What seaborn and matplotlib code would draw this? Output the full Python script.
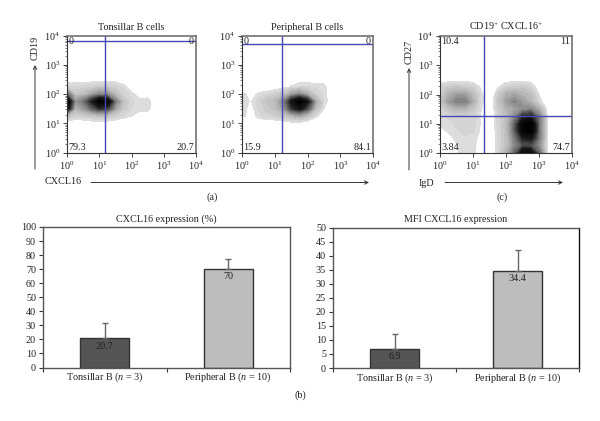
import matplotlib
matplotlib.use("Agg")
import matplotlib.pyplot as plt
import numpy as np
import pandas as pd
import seaborn as sns

sns.set_theme(style="white")
plt.rcParams["font.family"] = ["Liberation Serif", "DejaVu Serif"]
plt.rcParams["mathtext.fontset"] = "custom"
plt.rcParams["mathtext.rm"] = "Liberation Serif"
plt.rcParams["mathtext.it"] = "Liberation Serif:italic"
plt.rcParams["text.color"] = "#222222"

W, H = 600, 421
BLUE = "#4646b4"
FS = 7.3

# darkness (0 white, 10 black), top row first
# log10 positions of the columns / rows
tons_x = [0, .25, .5, .75, 1, 1.25, 1.5, 1.75, 2, 2.25, 2.5, 2.75, 3]
tons_y = [2.75, 2.5, 2.25, 2, 1.75, 1.5, 1.25, 1, .75]
tons_dark = [
    [0, 0, 0, 0, 0, 0, 0, 0, 0, 0, 0, 0, 0],
    [.5, .5, .5, .5, .6, .7, .6, .3, 0, 0, 0, 0, 0],
    [1.5, 1.5, 1.6, 1.8, 2, 2, 1.7, 1.3, .4, 0, 0, 0, 0],
    [5.5, 2.2, 2.6, 3.5, 4.5, 4.2, 2.7, 1.7, 1.2, .6, .6, 0, 0],
    [10, 4, 5, 7.5, 10, 9.5, 4.8, 2.4, 1.5, 1.2, 1.3, .4, 0],
    [8.5, 3, 3.8, 5.5, 7, 6.5, 3.6, 2, 1.4, 1.2, 1.2, .4, 0],
    [2.5, 1.6, 1.8, 2.1, 2.4, 2.3, 1.8, 1.4, 1, .7, .7, 0, 0],
    [.5, .5, .5, .6, .6, .6, .5, .3, 0, 0, 0, 0, 0],
    [0, 0, 0, 0, 0, 0, 0, 0, 0, 0, 0, 0, 0],
]

peri_x = [0, .25, .5, .75, 1, 1.25, 1.5, 1.75, 2, 2.25, 2.5, 2.75]
peri_y = [2.75, 2.5, 2.25, 2, 1.75, 1.5, 1.25, 1, .75]
peri_dark = [
    [0, 0, 0, 0, 0, 0, 0, 0, 0, 0, 0, 0],
    [0, 0, 0, 0, 0, 0, .4, .5, .5, .6, .6, 0],
    [0, 0, 0, 0, .4, .7, 1.1, 1.5, 1.5, 1.3, 1.2, .3],
    [1.3, .6, 1.2, 1.5, 1.8, 2.3, 3.6, 4.4, 3.2, 1.8, 1.3, .3],
    [1.5, .9, 1.7, 2.3, 2.8, 4.5, 8, 10, 8, 3.4, 1.4, .2],
    [1.3, .7, 1.5, 2.1, 2.5, 3.8, 6.8, 8.2, 6, 2.5, 1, 0],
    [1.2, .6, 1.3, 1.6, 1.8, 2.2, 2.9, 3.5, 2.5, 1.3, 0, 0],
    [.3, 0, .4, .5, .5, .6, .7, .8, .5, 0, 0, 0],
    [0, 0, 0, 0, 0, 0, 0, 0, 0, 0, 0, 0],
]

igd_x = [0, .25, .5, .75, 1, 1.25, 1.5, 1.75, 2, 2.25, 2.5, 2.75, 3, 3.25]
igd_y = [2.75, 2.5, 2.25, 2, 1.75, 1.5, 1.25, 1, .75, .5, .25, 0]
igd_dark = [
    [0, 0, 0, 0, 0, 0, 0, 0, 0, 0, 0, 0, 0, 0],
    [.5, .5, .6, .6, .5, 0, 0, 0, .5, .6, .7, .6, 0, 0],
    [1.6, 2, 2.1, 2, 1.8, .8, 0, .9, 1.8, 2, 2.1, 1.6, .4, 0],
    [2, 3.2, 3.8, 3.8, 2.7, 1.2, 0, 2, 3.2, 3.6, 3, 2.6, 1, 0],
    [2.2, 3.8, 4.8, 4.8, 3.2, 1.2, .2, 2.3, 3.8, 4.6, 3.8, 3, 1.4, .2],
    [1.6, 2.4, 3, 3, 2.2, 1, .2, 1.9, 3, 3.6, 4.2, 4.5, 3.2, .7],
    [1.2, 1.5, 1.7, 1.8, 1.7, .9, .3, 1.7, 2.5, 4.4, 7, 7.5, 4.8, 1],
    [1.1, 1.3, 1.5, 1.6, 1.6, .9, .3, 1.6, 2.6, 5.5, 9.5, 10, 5.2, 1.1],
    [.8, 1.1, 1.4, 1.5, 1.5, .8, .2, 1.5, 2.6, 5.5, 9.5, 10, 5.2, 1.1],
    [.6, .6, 1.3, 1.4, 1.3, .6, .1, 1.4, 2.5, 4.8, 7.5, 8, 4.8, 1.1],
    [.7, .5, .9, 1.3, 1.2, .5, .1, 1.4, 2.5, 4.4, 6, 6, 4.2, 1],
    [.5, .5, .9, 1.4, 1.2, .4, .1, 1.6, 3, 5.5, 9, 9, 5.5, 1],
]

# quadrant percentages: top left, top right, bottom left, bottom right
tons_quad = ["0", "0", "79.3", "20.7"]
peri_quad = ["0", "0", "15.9", "84.1"]
igd_quad = ["10.4", "11", "3.84", "74.7"]

groups = ["Tonsillar B ($n$ = 3)", "Peripheral B ($n$ = 10)"]
pct_values = [20.7, 70]
pct_err = [11.3, 7]
pct_labels = ["20.7", "70"]
mfi_values = [6.9, 34.4]
mfi_err = [5.3, 7.6]
mfi_labels = ["6.9", "34.4"]
bar_colors = ["#555555", "#bdbdbd"]

dark_cmap = sns.blend_palette(["#e2e2e2", "#b0b0b0", "#686868", "#181818", "#000000"], as_cmap=True)


def px_axes(fig, x0, y0, x1, y1):
    return fig.add_axes([x0 / W, 1 - y1 / H, (x1 - x0) / W, (y1 - y0) / H])


def density_panel(fig, rect, xs, ys, dark, gate, quad, title):
    ax = px_axes(fig, *rect)
    X = 10 ** np.array(xs, dtype=float)
    Y = 10 ** np.array(ys[::-1], dtype=float)
    Z = np.array(dark[::-1], dtype=float)
    ax.contourf(X, Y, Z, levels=np.linspace(1, 10.01, 22), cmap=dark_cmap)
    ax.set_xscale("log")
    ax.set_yscale("log")
    ax.set_xlim(1, 1e4)
    ax.set_ylim(1, 1e4)
    ax.axvline(gate[0], color=BLUE, lw=1)
    ax.axhline(gate[1], color=BLUE, lw=1)
    ax.set_xticks([1, 10, 100, 1000, 10000])
    ax.set_yticks([1, 10, 100, 1000, 10000])
    ax.tick_params(axis="both", which="major", left=True, bottom=True, length=3,
                   width=.6, pad=2, labelsize=FS, color="#222222", labelcolor="#222222")
    ax.tick_params(axis="both", which="minor", left=True, bottom=True, length=1.5,
                   width=.4, color="#222222")
    for s in ["top", "right"]:
        ax.spines[s].set_color("#666666")
        ax.spines[s].set_linewidth(1.1)
    for s in ["left", "bottom"]:
        ax.spines[s].set_color("#333333")
        ax.spines[s].set_linewidth(.8)
    ax.text(.012, .99, quad[0], transform=ax.transAxes, fontsize=FS, ha="left", va="top")
    ax.text(.985, .99, quad[1], transform=ax.transAxes, fontsize=FS, ha="right", va="top")
    ax.text(.012, .005, quad[2], transform=ax.transAxes, fontsize=FS, ha="left", va="bottom")
    ax.text(.985, .005, quad[3], transform=ax.transAxes, fontsize=FS, ha="right", va="bottom")
    ax.set_title(title, fontsize=FS, pad=4, color="#222222")
    return ax


def bar_panel(fig, rect, values, err, labels, ymax, step, title, right_col):
    ax = px_axes(fig, *rect)
    df = pd.DataFrame({"group": groups, "value": values})
    sns.barplot(data=df, x="group", y="value", hue="group", palette=bar_colors,
                width=.4, legend=False, edgecolor="#333333", linewidth=1, ax=ax)
    ax.errorbar([0, 1], values, yerr=[[0, 0], err], fmt="none", ecolor="#666666",
                elinewidth=1, capsize=2, capthick=1)
    for i, v in enumerate(values):
        ax.annotate(labels[i], (i, v), xytext=(0, -5.5), textcoords="offset points",
                    ha="center", va="center", fontsize=FS, color="#222222")
    ax.set_xlim(-.5, 1.5)
    ax.set_ylim(0, ymax)
    ax.set_yticks(np.arange(0, ymax + step, step))
    ax.set_xticks([-.5, .5, 1.5], minor=True)
    ax.set_xlabel("")
    ax.set_ylabel("")
    ax.tick_params(axis="x", which="major", length=0, pad=2.5, labelsize=FS, labelcolor="#222222")
    ax.tick_params(axis="x", which="minor", bottom=True, length=3, width=.8, color="#333333")
    ax.tick_params(axis="y", left=True, length=3, width=.8, pad=2, labelsize=FS,
                   color="#333333", labelcolor="#222222")
    for s in ["left", "top", "bottom"]:
        ax.spines[s].set_color("#555555")
        ax.spines[s].set_linewidth(1)
    ax.spines["right"].set_color(right_col)
    ax.spines["right"].set_linewidth(1)
    ax.set_title(title, fontsize=FS, pad=4, color="#222222")
    return ax


def fig_text(fig, x, y, s, **kw):
    fig.text(x / W, 1 - y / H, s, fontsize=FS, ha="center", va="center", **kw)


def fig_arrow(fig, x0, y0, x1, y1):
    fig.add_artist(matplotlib.patches.FancyArrowPatch(
        (x0 / W, 1 - y0 / H), (x1 / W, 1 - y1 / H), transform=fig.transFigure,
        arrowstyle="->", mutation_scale=6, lw=.7, color="#333333",
        shrinkA=0, shrinkB=0))


fig = plt.figure(figsize=(W / 100, H / 100), dpi=100)

density_panel(fig, (67, 36, 196, 152.5), tons_x, tons_y, tons_dark, (15.5, 6500),
              tons_quad, "Tonsillar B cells")
density_panel(fig, (242, 36, 373, 152.5), peri_x, peri_y, peri_dark, (17, 5500),
              peri_quad, "Peripheral B cells")
density_panel(fig, (440, 36, 572, 153), igd_x, igd_y, igd_dark, (21, 19),
              igd_quad, "CD19$^{+}$ CXCL16$^{+}$")

bar_panel(fig, (43, 227, 290, 367.5), pct_values, pct_err, pct_labels, 100, 10,
          "CXCL16 expression (%)", "#555555")
bar_panel(fig, (333, 227.5, 579, 368), mfi_values, mfi_err, mfi_labels, 50, 5,
          "MFI CXCL16 expression", "#111111")

fig_text(fig, 35, 48, "CD19", rotation=90)
fig_arrow(fig, 35, 169, 35, 65)
fig_text(fig, 63, 181, "CXCL16")
fig_arrow(fig, 91, 182.5, 369, 182.5)
fig_text(fig, 212, 197, "(a)")

fig_text(fig, 409, 52, "CD27", rotation=90)
fig_arrow(fig, 409, 170, 409, 68)
fig_text(fig, 426, 183, "IgD")
fig_arrow(fig, 445, 182.5, 563, 182.5)
fig_text(fig, 502, 197, "(c)")

fig_text(fig, 300, 395, "(b)")

fig.savefig("out.png", dpi=100)
